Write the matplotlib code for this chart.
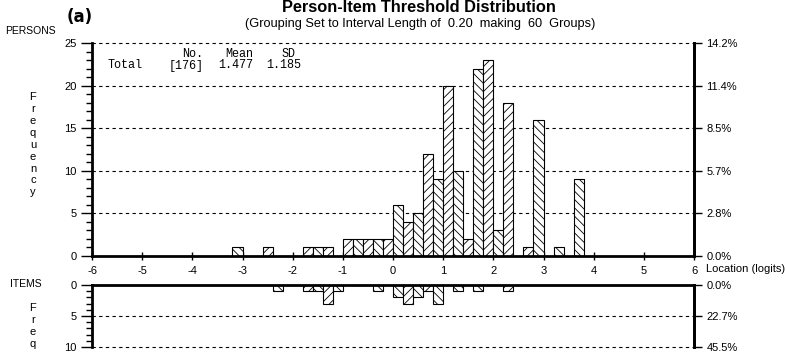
import numpy as np
import matplotlib.pyplot as plt
from matplotlib.ticker import MultipleLocator

plt.rcParams['font.family'] = ['Liberation Sans', 'DejaVu Sans']
plt.rcParams['hatch.linewidth'] = 0.6
plt.rcParams['axes.unicode_minus'] = False

# grouping: 60 intervals of 0.2 logits from -6 to 6
bin_width = 0.2
lo, hi = -6, 6

# persons: left edge of each occupied interval and its count
person_left = [-3.2, -2.6, -1.8, -1.6, -1.4, -1.0, -0.8, -0.6, -0.4, -0.2,
               0.0, 0.2, 0.4, 0.6, 0.8, 1.0, 1.2, 1.4, 1.6, 1.8, 2.0, 2.2,
               2.6, 2.8, 3.2, 3.6]
person_count = [1, 1, 1, 1, 1, 2, 2, 2, 2, 2,
                6, 4, 5, 12, 9, 20, 10, 2, 22, 23, 3, 18,
                1, 16, 1, 9]
# items (thresholds)
item_left = [-2.4, -1.8, -1.6, -1.4, -1.2, -0.4, 0.0, 0.2, 0.4, 0.6, 0.8,
             1.2, 1.6, 2.2]
item_count = [1, 1, 1, 3, 1, 1, 2, 3, 2, 1, 3, 1, 1, 1]

n_persons = 176
n_items = 22
stats_mean = 1.477
stats_sd = 1.185

W, H = 785, 358
fig = plt.figure(figsize=(W / 100, H / 100), dpi=100)


def fx(px):
    return px / W


def fy(py):
    return 1 - py / H


def hatch_for(left):
    idx = int(round((left - lo) / bin_width))
    return '////' if idx % 2 else '\\\\\\\\'


def style_axes(ax, grid_vals):
    for v in grid_vals:
        ax.axhline(v, color='black', lw=0.8, ls=(0, (3, 3)), zorder=0,
                   clip_on=False)
    ax.yaxis.set_minor_locator(MultipleLocator(1))
    ax.tick_params(axis='y', which='major', direction='out', length=8,
                   width=1, labelsize=8, pad=3)
    ax.tick_params(axis='y', which='minor', direction='out', length=4,
                   width=1)
    for s in ['left', 'right']:
        ax.spines[s].set_linewidth(2)


# ---- persons
ax1 = fig.add_axes([fx(92), fy(256), fx(602), 213 / H])
for l, c in zip(person_left, person_count):
    ax1.bar(l, c, width=bin_width, align='edge', color='white',
            edgecolor='black', linewidth=0.8, hatch=hatch_for(l), zorder=2)
ax1.set_xlim(lo, hi)
ax1.set_ylim(0, 25)
ax1.set_yticks(range(0, 26, 5))
ax1.set_xticks(range(lo, hi + 1))
ax1.spines['top'].set_visible(False)
ax1.spines['bottom'].set_linewidth(2)
style_axes(ax1, [5, 10, 15, 20, 25])
ax1.tick_params(axis='x', direction='inout', length=6, width=1,
                labelsize=8, pad=4)

ax1r = ax1.twinx()
ax1r.set_ylim(0, 25)
ax1r.set_yticks(range(0, 26, 5))
ax1r.set_yticklabels([f"{v / n_persons * 100:.1f}%" for v in range(0, 26, 5)])
ax1r.tick_params(axis='y', direction='out', length=6, width=1,
                 labelsize=8, pad=3)
for s in ['top', 'left', 'bottom']:
    ax1r.spines[s].set_visible(False)
ax1r.spines['right'].set_linewidth(2)

# ---- items
ax2 = fig.add_axes([fx(92), fy(347), fx(602), 62 / H])
for l, c in zip(item_left, item_count):
    ax2.bar(l, c, width=bin_width, align='edge', color='white',
            edgecolor='black', linewidth=0.8, hatch=hatch_for(l), zorder=2)
ax2.set_xlim(lo, hi)
ax2.set_ylim(10, 0)
ax2.set_yticks([0, 5, 10])
ax2.set_xticks([])
ax2.spines['bottom'].set_visible(False)
ax2.spines['top'].set_linewidth(2)
style_axes(ax2, [5, 10])

ax2r = ax2.twinx()
ax2r.set_ylim(10, 0)
ax2r.set_yticks([0, 5, 10])
ax2r.set_yticklabels([f"{v / n_items * 100:.1f}%" for v in [0, 5, 10]])
ax2r.tick_params(axis='y', direction='out', length=6, width=1,
                 labelsize=8, pad=3)
for s in ['top', 'left', 'bottom']:
    ax2r.spines[s].set_visible(False)
ax2r.spines['right'].set_linewidth(2)

# ---- texts
fig.text(fx(419), fy(8), 'Person-Item Threshold Distribution',
         ha='center', va='center', fontsize=11.8, fontweight='bold')
fig.text(fx(420), fy(24),
         '(Grouping Set to Interval Length of  0.20  making  60  Groups)',
         ha='center', va='center', fontsize=9.2)
fig.text(fx(67), fy(17), '(a)', ha='left', va='center', fontsize=12,
         fontweight='bold', family='DejaVu Sans')
fig.text(fx(5), fy(31), 'PERSONS', ha='left', va='center', fontsize=7.5)
fig.text(fx(10), fy(284), 'ITEMS', ha='left', va='center', fontsize=7.5)
fig.text(fx(33), fy(92), '\n'.join('Frequency'), ha='center', va='top',
         fontsize=8, linespacing=1.24)
fig.text(fx(33), fy(303), '\n'.join('Freq'), ha='center', va='top',
         fontsize=8, linespacing=1.27)
fig.text(fx(706), fy(269), 'Location (logits)', ha='left', va='center',
         fontsize=8)

# summary box, each token placed on its own
mono = dict(family='Liberation Mono', fontsize=8.5, va='baseline',
            ha='center')
fig.text(fx(193), fy(57), 'No.', **mono)
fig.text(fx(239), fy(57), 'Mean', **mono)
fig.text(fx(288), fy(57), 'SD', **mono)
fig.text(fx(125), fy(68.5), 'Total', **mono)
fig.text(fx(186), fy(68.5), f'[{n_persons}]', **mono)
fig.text(fx(235.5), fy(68.5), f'{stats_mean:.3f}', **mono)
fig.text(fx(284), fy(68.5), f'{stats_sd:.3f}', **mono)

fig.savefig('out.png', dpi=100)
